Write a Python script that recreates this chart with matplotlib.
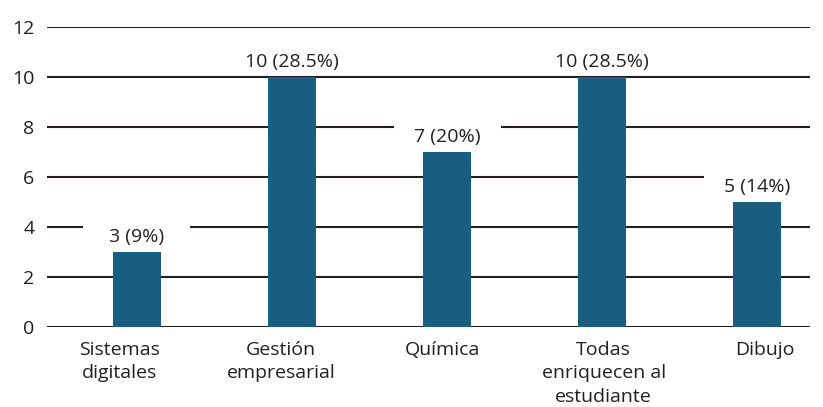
import matplotlib.pyplot as plt
from matplotlib.path import Path
import numpy as np

categorias = ["Sistemas\ndigitales", "Gestión\nempresarial", "Química",
              "Todas\nenriquecen al\nestudiante", "Dibujo"]
valores = [3, 10, 7, 10, 5]
etiquetas = ["3 (9%)", "10 (28.5%)", "7 (20%)", "10 (28.5%)", "5 (14%)"]

plt.rcParams['font.family'] = ['Open Sans', 'DejaVu Sans']


def caja_fija(x0, y0, width, height, mutation_size):
    # fondo blanco de ancho fijo, corta la reja igual para todas las etiquetas
    cx = x0 + width / 2
    half = max(width / 2 + 2, 2.75 * mutation_size)
    py = 0.18 * mutation_size
    xa, xb = cx - half, cx + half
    ya, yb = y0 - py, y0 + height + py
    return Path([(xa, ya), (xb, ya), (xb, yb), (xa, yb), (xa, ya)], closed=True)


fig = plt.figure(figsize=(8.23, 4.07), dpi=100)
ax = fig.add_axes([47/823, 80/407, 763/823, 300/407])

x = np.arange(len(categorias))
ax.set_axisbelow(True)
ax.yaxis.grid(True, color="#231f20", linewidth=1.5)
ax.bar(x, valores, width=0.31, color="#175e80", zorder=3)

for xi, v, t in zip(x, valores, etiquetas):
    ax.text(xi, v + 0.25, t, ha="center", va="bottom", fontsize=14,
            color="#231f20", bbox=dict(facecolor="white", edgecolor="none", boxstyle=caja_fija),
            zorder=2)

ax.set_ylim(0, 12)
ax.set_yticks(range(0, 13, 2))
ax.set_xlim(-0.58, 4.34)
# en el original los textos del eje x estan algo mas repartidos que las barras
ax.set_xticks(x * 1.04 - 0.11)
ax.set_xticklabels(categorias, fontsize=14, color="#231f20", linespacing=1.4)
ax.tick_params(axis="both", length=0, labelsize=14, colors="#231f20")
ax.tick_params(axis="y", pad=9)
ax.tick_params(axis="x", pad=10)
for s in ax.spines.values():
    s.set_visible(False)

fig.savefig("out.png", dpi=100)
